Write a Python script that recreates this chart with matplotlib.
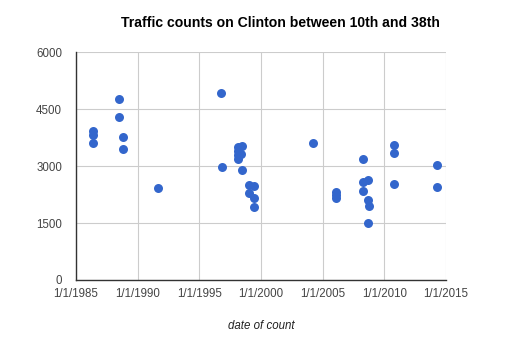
import pandas as pd
import matplotlib
matplotlib.use("Agg")
import matplotlib.pyplot as plt

plt.rcParams["font.family"] = ["Liberation Sans", "DejaVu Sans"]

count_dates = [
    "1986-05-26", "1986-05-26", "1986-05-26",
    "1988-06-28", "1988-06-28", "1988-10-23", "1988-10-23",
    "1991-08-25",
    "1996-10-05", "1996-10-23",
    "1998-02-10", "1998-06-18", "1998-02-10", "1998-05-20", "1998-02-10", "1998-02-10",
    "1998-06-07",
    "1999-01-12", "1999-06-18", "1999-01-12", "1999-06-18", "1999-06-18",
    "2004-04-01",
    "2006-01-30", "2006-01-30", "2006-01-30",
    "2008-04-01", "2008-04-01", "2008-09-16", "2008-04-01",
    "2008-08-25", "2008-10-05", "2008-08-25",
    "2010-10-27", "2010-10-27", "2010-10-27",
    "2014-04-12", "2014-04-12",
]
traffic_counts = [
    3930, 3820, 3610,
    4770, 4290, 3780, 3440,
    2420,
    4930, 2990,
    3510, 3520, 3400, 3330, 3300, 3190,
    2910,
    2500, 2480, 2280, 2170, 1930,
    3610,
    2320, 2240, 2150,
    3190, 2570, 2640, 2340,
    2100, 1950, 1500,
    3560, 3350, 2530,
    3030, 2450,
]
y_ticks = [0, 1500, 3000, 4500, 6000]
x_tick_years = [1985, 1990, 1995, 2000, 2005, 2010, 2015]

dates = pd.to_datetime(count_dates)
tick_dates = pd.to_datetime([f"{y}-01-01" for y in x_tick_years])

fig = plt.figure(figsize=(5.09, 3.44), dpi=100)
ax = fig.add_axes([76 / 509, 64 / 344, 370 / 509, 227.7 / 344])

ax.scatter(dates, traffic_counts, s=42, color="#3366cc", zorder=3, linewidths=0)

ax.set_xlim(tick_dates[0], tick_dates[-1])
ax.set_ylim(0, 6000)
ax.set_xticks(tick_dates)
ax.set_xticklabels([f"1/1/{y}" for y in x_tick_years])
ax.set_yticks(y_ticks)

ax.grid(True, color="#cccccc", linewidth=0.8, zorder=0)
ax.tick_params(length=0, labelsize=8.3, colors="#444444", pad=6)
ax.tick_params(axis="y", pad=10)

for side in ["top", "right"]:
    ax.spines[side].set_visible(False)
for side in ["left", "bottom"]:
    ax.spines[side].set_color("#333333")
    ax.spines[side].set_linewidth(1.0)
    ax.spines[side].set_zorder(4)

ax.set_xlabel("date of count", fontsize=8.3, style="italic", color="#222222", labelpad=14)

fig.text(280 / 509, 1 - 23 / 344, "Traffic counts on Clinton between 10th and 38th",
         ha="center", va="center", fontsize=10.1, fontweight="bold", color="#000000")

fig.savefig("out.png", dpi=100)
